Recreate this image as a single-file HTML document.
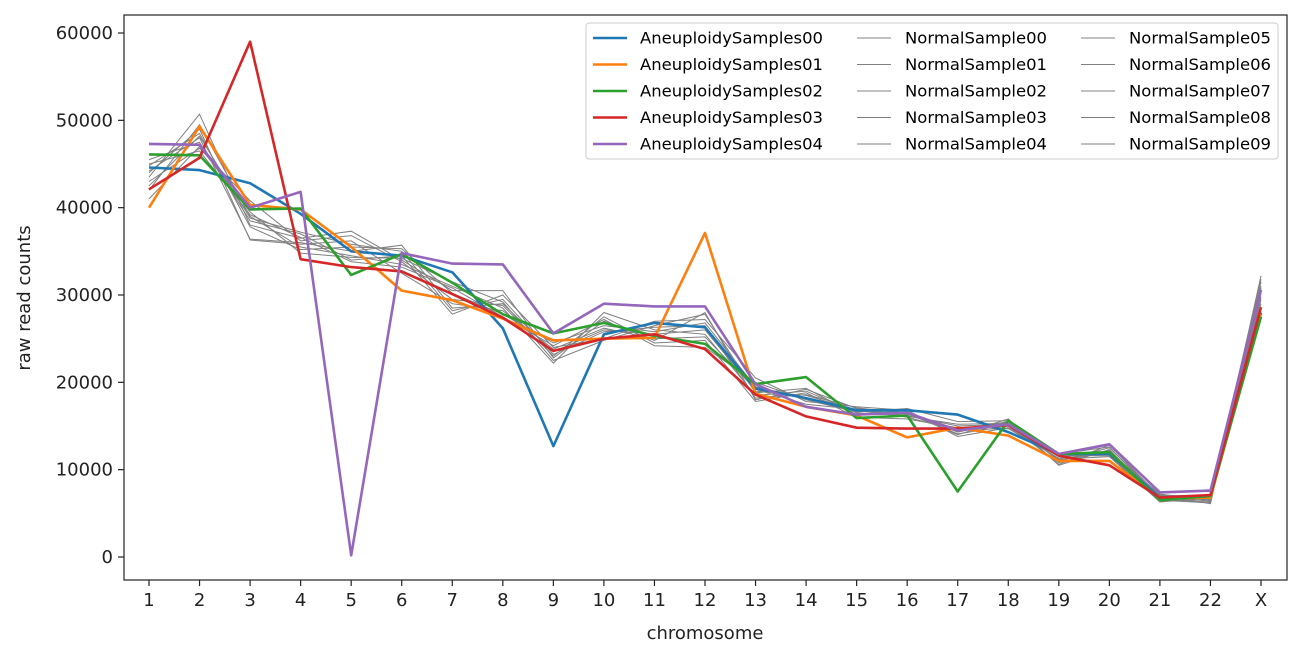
<!DOCTYPE html>
<html><head><meta charset="utf-8"><style>
body{margin:0;background:#fff;}
svg{display:block;font-family:"DejaVu Sans","Liberation Sans",sans-serif;}
</style></head><body>
<svg id="chart" width="1301" height="659" viewBox="0 0 1301 659" xmlns="http://www.w3.org/2000/svg">
<rect x="124" y="15" width="1163" height="565" fill="none" stroke="#222" stroke-width="1.2"/>
<g id="grid"></g>
<g id="normals"></g>
<g id="aneu"></g>
<g id="legend"></g>
<text x="705" y="639" font-size="18" text-anchor="middle" fill="#222">chromosome</text>
<text transform="translate(30,298) rotate(-90)" font-size="18" text-anchor="middle" fill="#222">raw read counts</text>
</svg>
<script>
const categories=["1","2","3","4","5","6","7","8","9","10","11","12","13","14","15","16","17","18","19","20","21","22","X"];
const yTicks=[0,10000,20000,30000,40000,50000,60000];
const aneuNames=["AneuploidySamples00","AneuploidySamples01","AneuploidySamples02","AneuploidySamples03","AneuploidySamples04"];
const aneu0=[44600,44300,42800,39300,35000,34500,32600,26200,12700,25500,26800,26300,19300,18200,16800,16800,16300,14300,11800,11800,6800,7000,28000];
const aneu1=[40000,49300,40300,39800,35500,30500,29400,27300,24800,25000,25100,37100,18700,17200,16200,13700,14800,13900,11000,11000,6700,6800,27800];
const aneu2=[46100,46000,39800,39900,32300,34700,31400,27800,25600,26800,25300,24400,19800,20600,15900,16200,7500,15600,11800,12000,6500,7000,27500];
const aneu3=[42100,45700,59000,34100,33200,32700,30100,27400,23600,25000,25500,23800,18600,16100,14800,14700,14700,15100,11600,10500,6800,7100,28600];
const aneu4=[47300,47200,40000,41800,200,34800,33600,33500,25600,29000,28700,28700,19800,17200,16300,16500,14500,15200,11800,12900,7400,7600,30600];
const normNames=["NormalSample00","NormalSample01","NormalSample02","NormalSample03","NormalSample04","NormalSample05","NormalSample06","NormalSample07","NormalSample08","NormalSample09"];
const norm0=[43500,50700,38000,36500,37300,34000,30500,30500,22800,27000,24800,28000,18000,19200,17000,16500,14000,15800,10500,12300,6500,6200,32200];
const norm1=[44200,48000,36400,36000,35000,35700,28500,29000,23500,26000,25500,26000,19000,18500,16800,16000,14500,15500,11000,12500,7000,6100,31500];
const norm2=[42000,49500,39000,35500,34500,33500,31000,28500,22200,28000,26000,25500,18500,19000,16500,16200,15000,15200,11200,11500,6300,6800,30500];
const norm3=[45500,47500,38500,37000,34000,34500,27800,30000,24000,25000,27000,27200,20500,17800,17200,16800,13800,14800,11500,12000,7200,6500,29800];
const norm4=[43000,46800,40800,36200,36800,33800,29500,28800,23000,27500,24500,24800,17800,18800,16000,15800,14800,15000,10800,12200,6800,6900,30800];
const norm5=[44800,48500,37800,35200,35500,35300,30200,27800,24500,26500,25800,26800,19500,18200,16700,16500,14300,15500,11800,12600,6600,6300,29500];
const norm6=[41000,47000,39500,34800,34300,34200,31500,29200,22500,24800,26500,27800,18800,19300,16300,16600,14600,14700,11300,11800,7100,6700,31000];
const norm7=[44000,49000,36300,35800,36200,32500,29000,28200,23800,26200,25000,25200,19200,17500,16900,16100,15200,15300,10600,12800,6900,6400,30200];
const norm8=[42500,48200,38800,37200,35800,35000,28200,29500,23200,25800,26300,26500,18200,18600,17100,16400,14100,15000,11600,11600,6400,6600,29000];
const norm9=[45000,46500,39200,36600,33800,33200,30800,27500,24200,27200,24200,24000,20000,18000,16600,17000,15500,15600,11100,12100,7000,7100,31800];
const normSeries=[norm0,norm1,norm2,norm3,norm4,norm5,norm6,norm7,norm8,norm9];
const aneuSeries=[aneu0,aneu1,aneu2,aneu3,aneu4];
const colors=["#1f77b4","#ff7f0e","#2ca02c","#d62728","#9467bd"];
const NS="http://www.w3.org/2000/svg";
const xS=i=>149+i*(1261-149)/(categories.length-1);
const yS=v=>557-v*(557-33)/60000;
function mk(tag,attrs,parent){const e=document.createElementNS(NS,tag);for(const k in attrs)e.setAttribute(k,attrs[k]);parent.appendChild(e);return e;}
const grid=document.getElementById('grid');
categories.forEach((c,i)=>{
  const t=mk('line',{x1:xS(i),x2:xS(i),y1:580,y2:586,stroke:'#222','stroke-width':1.2},grid);
  
  
  const l=mk('text',{x:xS(i),y:606,'font-size':18,'text-anchor':'middle',fill:'#222'},grid);
  l.textContent=c;
  
  
});
yTicks.forEach(v=>{
  const t=mk('line',{x1:118,x2:124,y1:yS(v),y2:yS(v),stroke:'#222','stroke-width':1.2},grid);
  
  
  const l=mk('text',{x:113,y:yS(v)+6,'font-size':18,'text-anchor':'end',fill:'#222'},grid);
  l.textContent=v;
  
  
});
const pts=d=>d.map((v,i)=>xS(i).toFixed(1)+','+yS(v).toFixed(1)).join(' ');
const ng=document.getElementById('normals');
normSeries.forEach((d,k)=>{
  const p=mk('polyline',{points:pts(d),fill:'none',stroke:'#808080','stroke-width':1},ng);
  
  
});
const ag=document.getElementById('aneu');
aneuSeries.forEach((d,k)=>{
  const p=mk('polyline',{points:pts(d),fill:'none',stroke:colors[k],'stroke-width':2.6,'stroke-linejoin':'round'},ag);
  
  
});
const lg=document.getElementById('legend');
const box=mk('rect',{x:586,y:23,width:692,height:136,rx:3,fill:'#fff','fill-opacity':0.85,stroke:'#ccc'},lg);


const rowY=i=>38+i*26.5;
aneuNames.forEach((n,i)=>{
  const l=mk('line',{x1:593,x2:627,y1:rowY(i),y2:rowY(i),stroke:colors[i],'stroke-width':2.6},lg);
  
  
  const t=mk('text',{x:640,y:rowY(i)+5.5,'font-size':16,fill:'#000',textLength:183,lengthAdjust:'spacingAndGlyphs'},lg);
  t.textContent=n;
  
  
});
normNames.forEach((n,i)=>{
  const col=Math.floor(i/5),r=i%5;
  const x0=857+col*224;
  const l=mk('line',{x1:x0,x2:x0+34,y1:rowY(r),y2:rowY(r),stroke:'#808080','stroke-width':1},lg);
  
  
  const t=mk('text',{x:x0+48,y:rowY(r)+5.5,'font-size':16,fill:'#000',textLength:142,lengthAdjust:'spacingAndGlyphs'},lg);
  t.textContent=n;
  
  
});
</script>
</body></html>
